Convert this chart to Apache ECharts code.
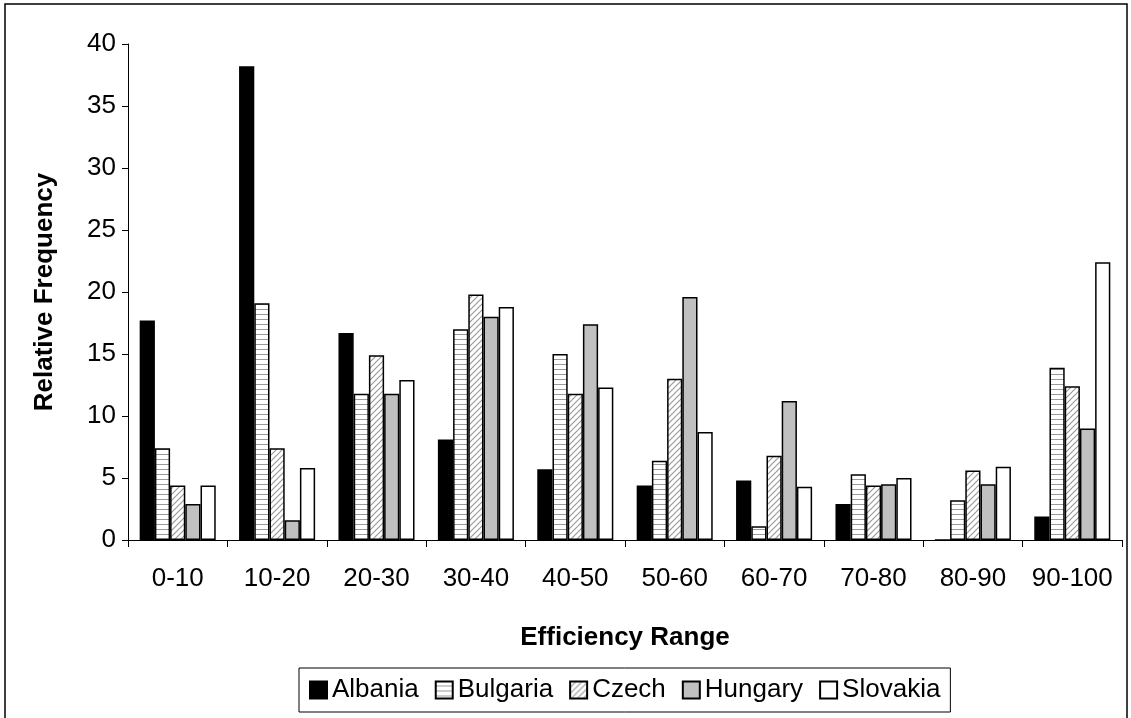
<!DOCTYPE html>
<html>
<head>
<meta charset="utf-8">
<script src="https://cdn.jsdelivr.net/npm/echarts@6/dist/echarts.min.js"></script>
<style>
html,body{margin:0;padding:0;background:#fff;}
#chart{width:1131px;height:718px;}
</style>
</head>
<body>
<div id="chart"></div>
<script>
const categories = ['0-10','10-20','20-30','30-40','40-50','50-60','60-70','70-80','80-90','90-100'];
const albania  = [17.7, 38.2, 16.7, 8.1, 5.7, 4.4, 4.8, 2.9, 0, 1.9];
const bulgaria = [7.4, 19.1, 11.8, 17.0, 15.0, 6.4, 1.1, 5.3, 3.2, 13.9];
const czech    = [4.4, 7.4, 14.9, 19.8, 11.8, 13.0, 6.8, 4.4, 5.6, 12.4];
const hungary  = [2.9, 1.6, 11.8, 18.0, 17.4, 19.6, 11.2, 4.5, 4.5, 9.0];
const slovakia = [4.4, 5.8, 12.9, 18.8, 12.3, 8.7, 4.3, 5.0, 5.9, 22.4];
const yTicks = {min: 0, max: 40, interval: 5};

const FONT = "'Liberation Sans', Arial, sans-serif";

function horizPattern(){
  const c = document.createElement('canvas');
  c.width = 8; c.height = 5;
  const g = c.getContext('2d');
  g.fillStyle = '#fff'; g.fillRect(0,0,8,5);
  g.fillStyle = '#9a9a9a'; g.fillRect(0,4,8,1);
  return c;
}
function diagPattern(){
  const s = 6;
  const c = document.createElement('canvas');
  c.width = s; c.height = s;
  const g = c.getContext('2d');
  g.fillStyle = '#fff'; g.fillRect(0,0,s,s);
  g.strokeStyle = '#9a9a9a'; g.lineWidth = 1.2;
  g.beginPath();
  g.moveTo(0,s); g.lineTo(s,0);
  g.moveTo(-s/2,s/2); g.lineTo(s/2,-s/2);
  g.moveTo(s/2,s*1.5); g.lineTo(s*1.5,s/2);
  g.stroke();
  return c;
}

const border = {borderColor:'#000', borderWidth:1.5};
function bar(name, data, color){
  return {
    name, type:'bar', data,
    barGap:'0%', barCategoryGap:'23.5%',
    itemStyle: Object.assign({color}, border),
    emphasis:{disabled:true}
  };
}

const chart = echarts.init(document.getElementById('chart'), null, {renderer:'canvas'});
chart.setOption({
  animation:false,
  backgroundColor:'#fff',
  textStyle:{fontFamily:FONT},
  graphic:[{
    type:'rect', shape:{x:5, y:4, width:1122, height:730},
    style:{fill:'none', stroke:'#000', lineWidth:1.5}, silent:true
  }],
  grid:{left:128, right:9, top:44, bottom:178, containLabel:false},
  legend:{
    left:299, top:668,
    padding:[9,10], itemGap:16, itemWidth:17, itemHeight:17,
    borderColor:'#000', borderWidth:1,
    icon:'rect',
    textStyle:{fontFamily:FONT, fontSize:26, color:'#000'},
    data:['Albania','Bulgaria','Czech','Hungary','Slovakia']
  },
  xAxis:{
    type:'category', data:categories,
    name:'Efficiency Range', nameLocation:'middle', nameGap:85,
    nameTextStyle:{fontFamily:FONT, fontSize:26, fontWeight:'bold', color:'#000'},
    axisLine:{lineStyle:{color:'#000', width:1}},
    axisTick:{show:true, length:7, interval:0, lineStyle:{color:'#000'}, alignWithLabel:false},
    axisLabel:{color:'#000', fontSize:26, fontFamily:FONT, margin:26, interval:0},
    splitLine:{show:false}
  },
  yAxis:{
    type:'value', min:yTicks.min, max:yTicks.max, interval:yTicks.interval,
    name:'Relative Frequency', nameLocation:'middle', nameGap:70, nameRotate:90,
    nameTextStyle:{fontFamily:FONT, fontSize:26, fontWeight:'bold', color:'#000'},
    axisLine:{show:true, lineStyle:{color:'#000', width:1}},
    axisTick:{show:true, length:6, lineStyle:{color:'#000'}},
    axisLabel:{color:'#000', fontSize:26, fontFamily:FONT, margin:12},
    splitLine:{show:false}
  },
  series:[
    bar('Albania', albania, '#000'),
    bar('Bulgaria', bulgaria, {image: horizPattern(), repeat:'repeat'}),
    bar('Czech', czech, {image: diagPattern(), repeat:'repeat'}),
    bar('Hungary', hungary, '#c0c0c0'),
    bar('Slovakia', slovakia, '#fff')
  ]
});
</script>
</body>
</html>
